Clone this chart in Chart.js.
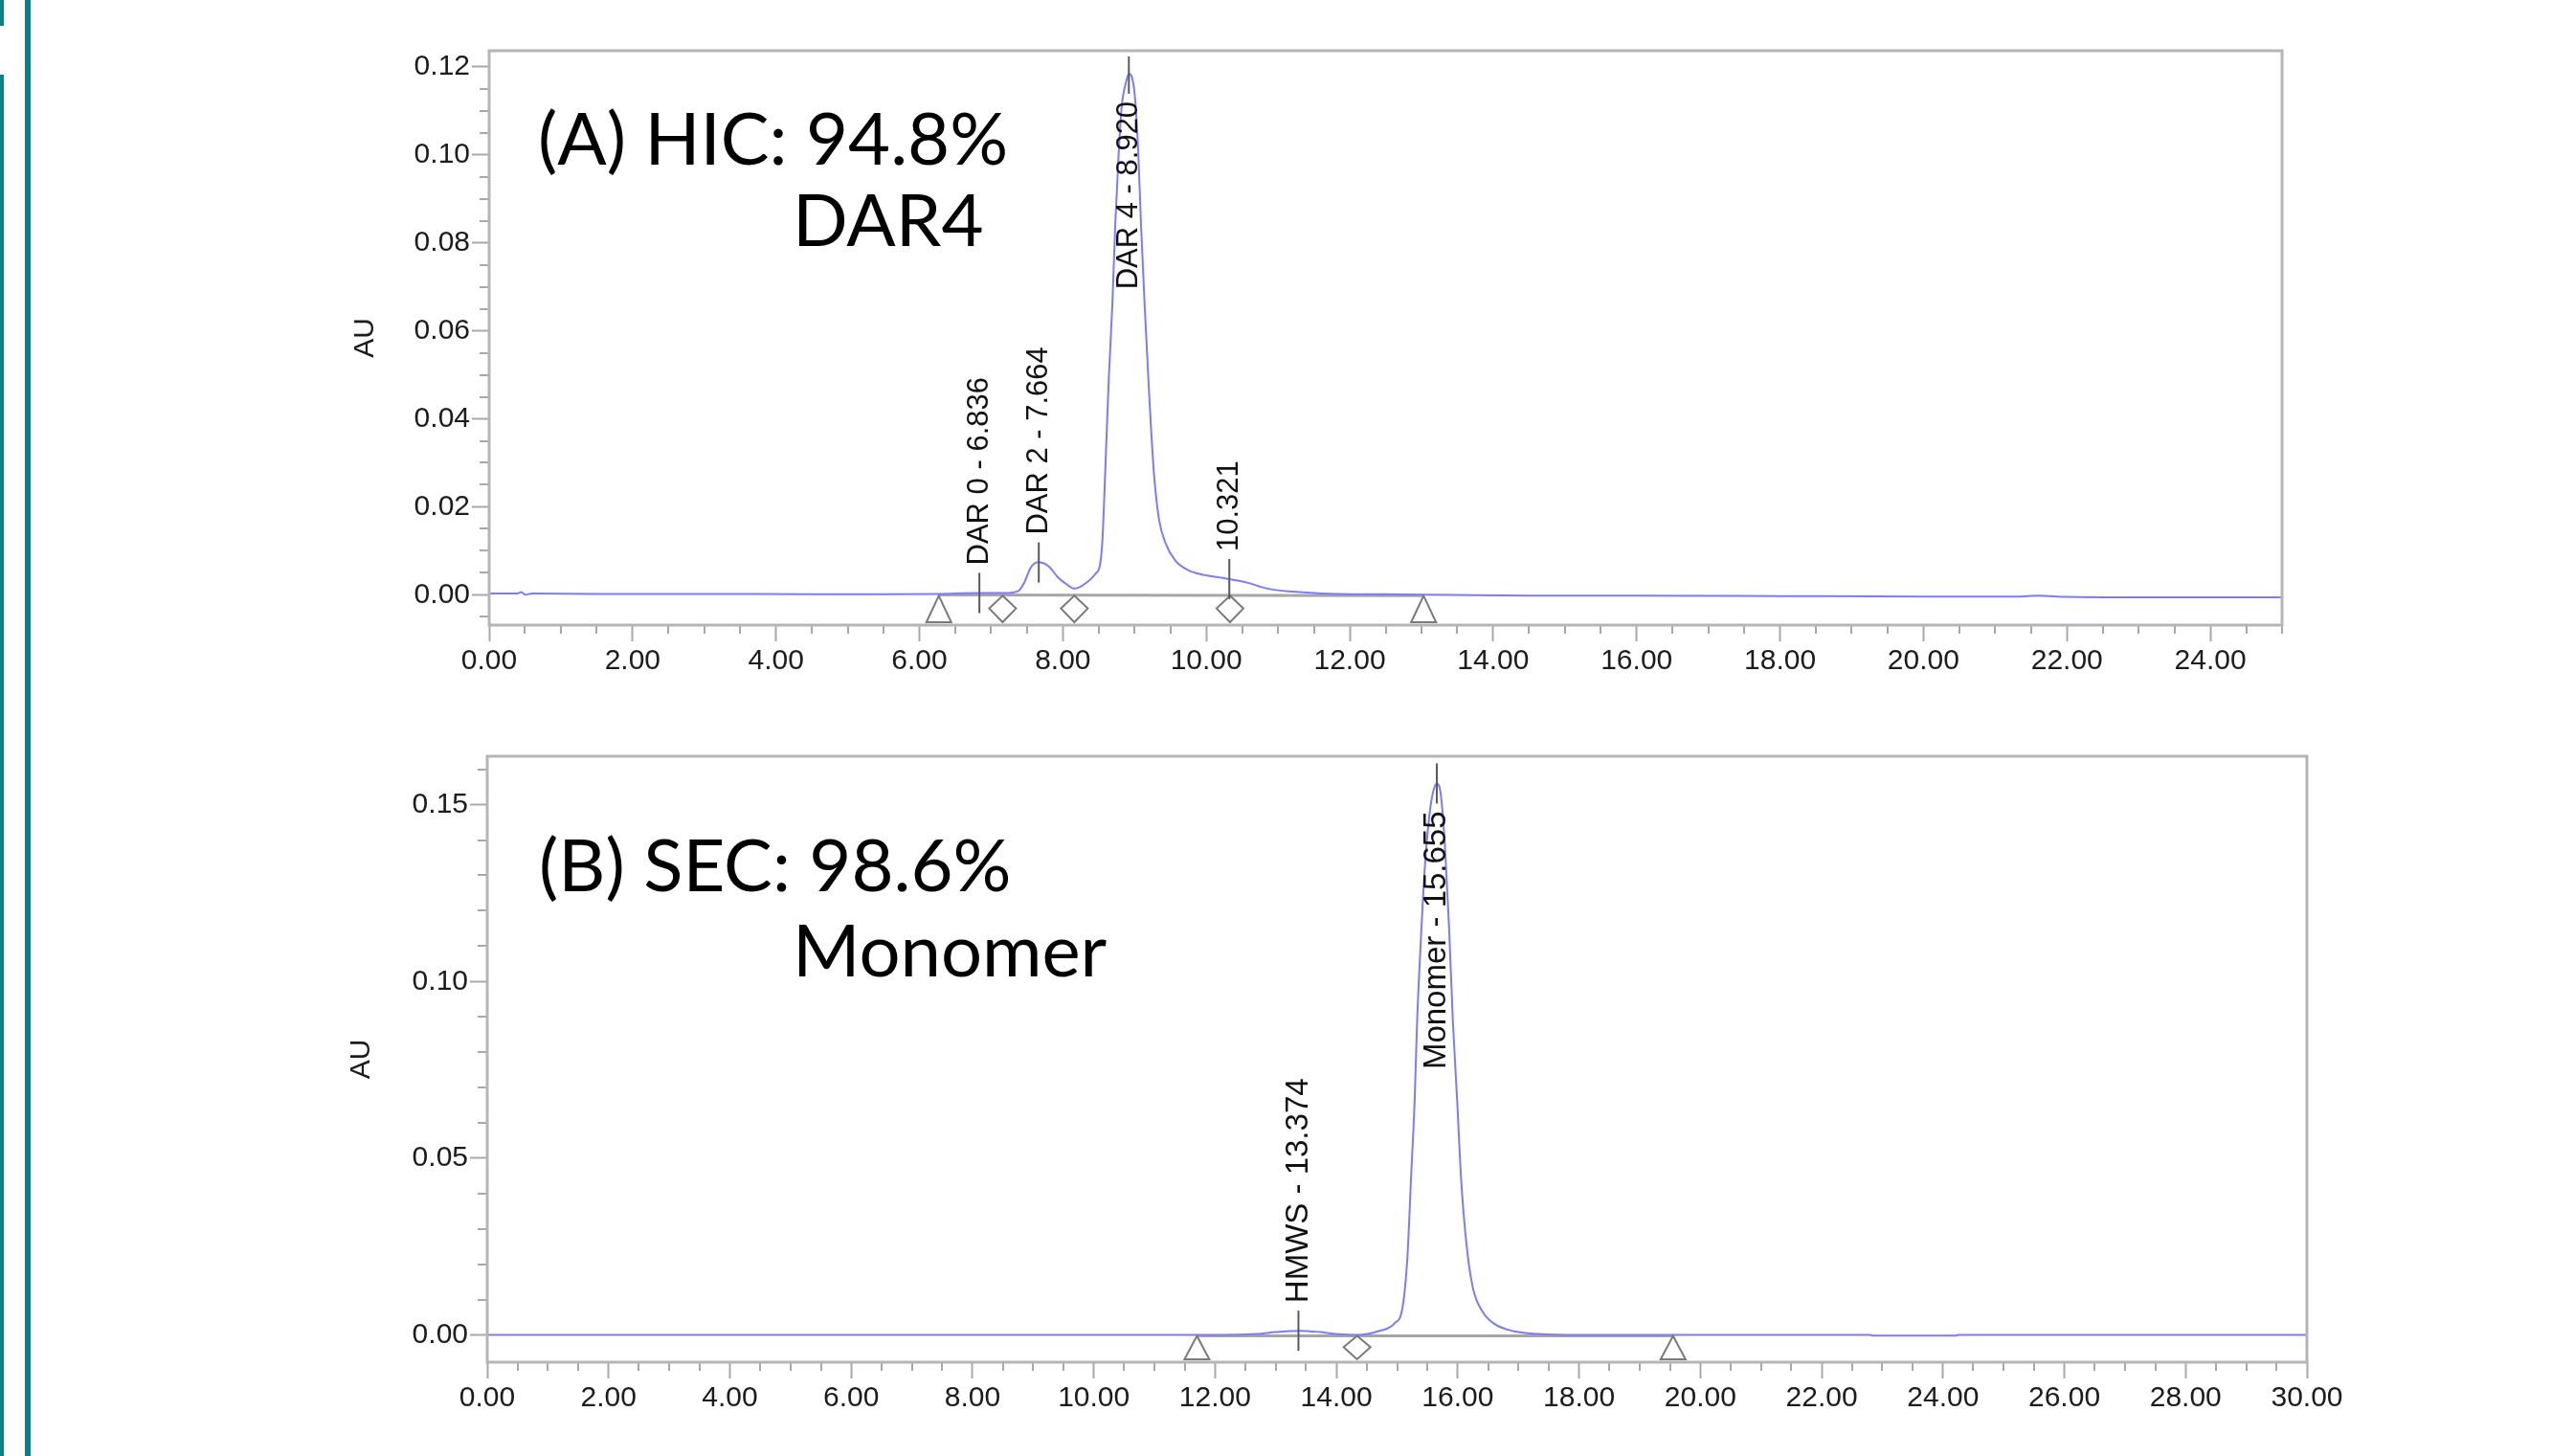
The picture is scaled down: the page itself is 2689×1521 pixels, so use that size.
<!DOCTYPE html>
<html lang="en">
<head>
<meta charset="UTF-8">
<title>HIC / SEC chromatograms</title>
<script src="https://cdn.jsdelivr.net/npm/chart.js"></script>
<style>
  html, body { margin: 0; padding: 0; background: #fff; }
  body { width: 2689px; height: 1521px; position: relative; overflow: hidden; }
  .panel { position: absolute; left: 0; width: 2689px; }
  #panelA { top: 0; height: 760px; }
  #panelB { top: 760px; height: 761px; }
  .bar { position: absolute; background: #0e8280; }
</style>
</head>
<body>
<div class="bar" style="left:0;top:0;width:4px;height:27px"></div>
<div class="bar" style="left:0;top:78px;width:4px;height:1443px"></div>
<div class="bar" style="left:26px;top:0;width:6px;height:1521px"></div>

<div class="panel" id="panelA"><canvas id="hicChart"></canvas></div>
<div class="panel" id="panelB"><canvas id="secChart"></canvas></div>

<script>
// (A) HIC trace - retention time (min) / absorbance (AU)
const hicTime = [0.00, 0.40, 0.45, 0.50, 0.60, 1.50, 3.00, 4.50, 5.50, 6.27, 6.80, 7.20,
  7.37, 7.46, 7.55, 7.654, 7.80, 7.93, 8.05, 8.16, 8.29, 8.45, 8.52, 8.55, 8.60, 8.64,
  8.69, 8.73, 8.78, 8.82, 8.88, 8.92, 9.00, 9.05, 9.09, 9.14, 9.205, 9.27, 9.34, 9.43,
  9.565, 9.745, 9.97, 10.20, 10.375, 10.58, 10.85, 11.21, 11.60, 12.50, 13.03, 14.50,
  16.00, 18.00, 20.00, 21.30, 21.60, 22.00, 23.00, 25.00];
const hicAU = [0.0003, 0.0003, 0.0006, 0.0000, 0.0003, 0.0002, 0.0002, 0.0001, 0.0001, 0.0002, 0.0004, 0.0004,
  0.0008, 0.0027, 0.0061, 0.0074, 0.0065, 0.0040, 0.0024, 0.0014, 0.0023, 0.0047, 0.0070, 0.0120, 0.0320, 0.0490,
  0.0660, 0.0840, 0.1010, 0.1110, 0.1165, 0.1185, 0.1140, 0.1010, 0.0840, 0.0660, 0.0450, 0.0276, 0.0172, 0.0118,
  0.0078, 0.0056, 0.0045, 0.0039, 0.0034, 0.0027, 0.0014, 0.0007, 0.0003, 0.0001, 0.0000, -0.0002,
  -0.0002, -0.0003, -0.0004, -0.0004, -0.0002, -0.0005, -0.0006, -0.0006];
const hicPeakTimes = [6.836, 7.664, 8.920, 10.321];
const hicPeakNames = ['DAR 0 - 6.836', 'DAR 2 - 7.664', 'DAR 4 - 8.920', '10.321'];
const hicBaseline = [6.27, 13.03];
const hicDrops = [7.16, 8.16, 10.33];

// (B) SEC trace
const secTime = [0.0, 5.0, 10.0, 11.7, 12.1, 12.7, 13.0, 13.38, 13.74, 14.04, 14.34, 14.70,
  14.96, 15.09, 15.17, 15.23, 15.29, 15.33, 15.39, 15.46, 15.54, 15.60, 15.655, 15.72,
  15.79, 15.855, 15.92, 15.99, 16.055, 16.145, 16.25, 16.41, 16.59, 16.91, 17.33, 18.0,
  19.5, 22.8, 22.85, 24.2, 24.25, 30.0];
const secAU = [0.0000, 0.0000, 0.0000, 0.0000, 0.0000, 0.0003, 0.0008, 0.0012, 0.0008, 0.0002, 0.0000, 0.0011,
  0.0033, 0.0078, 0.0220, 0.0443, 0.0665, 0.0886, 0.1110, 0.1330, 0.1480, 0.1540, 0.1560, 0.1530,
  0.1380, 0.1160, 0.0886, 0.0665, 0.0443, 0.0255, 0.0133, 0.0066, 0.0033, 0.0011, 0.0003, 0.0000,
  0.0000, 0.0000, -0.0002, -0.0002, 0.0000, 0.0000];
const secPeakTimes = [13.374, 15.655];
const secPeakNames = ['HMWS - 13.374', 'Monomer - 15.655'];
const secBaseline = [11.70, 19.55];
const secDrops = [14.34];

Chart.defaults.font.family = '"Liberation Sans", Arial, sans-serif';

function valueAt(times, vals, t) {
    for (let i = 1; i < times.length; i++) {
        if (t <= times[i]) {
            const f = (t - times[i - 1]) / (times[i] - times[i - 1]);
            return vals[i - 1] + f * (vals[i] - vals[i - 1]);
        }
    }
    return vals[vals.length - 1];
}

// baseline, integration marks, peak labels, frame, minor ticks and big caption
function makeDecor(cfg) {
    return {
        id: 'decor',
        beforeDatasetsDraw(chart) {
            const {ctx, scales: {x, y}} = chart;
            const [b0, b1] = cfg.baseline;
            ctx.save();
            ctx.strokeStyle = '#a6a6a6';
            ctx.lineWidth = 3;
            ctx.beginPath();
            ctx.moveTo(x.getPixelForValue(b0), y.getPixelForValue(valueAt(cfg.time, cfg.au, b0)) + 1);
            ctx.lineTo(x.getPixelForValue(b1), y.getPixelForValue(valueAt(cfg.time, cfg.au, b1)) + 1);
            ctx.stroke();
            ctx.restore();
        },
        afterDatasetsDraw(chart) {
            const {ctx, chartArea: a, scales: {x, y}} = chart;
            const y0 = y.getPixelForValue(0);
            const yb = a.bottom - 3;
            ctx.save();

            // triangles at baseline start / end
            ctx.strokeStyle = '#7a7a7a';
            ctx.fillStyle = '#fff';
            ctx.lineWidth = 2;
            cfg.baseline.forEach(t => {
                const px = x.getPixelForValue(t);
                ctx.beginPath();
                ctx.moveTo(px, y0 + 1);
                ctx.lineTo(px + 13, yb);
                ctx.lineTo(px - 13, yb);
                ctx.closePath();
                ctx.fill();
                ctx.stroke();
            });
            // diamonds at drop lines
            cfg.drops.forEach(t => {
                const px = x.getPixelForValue(t);
                const mid = (y0 + yb) / 2;
                ctx.beginPath();
                ctx.moveTo(px, y0 + 1);
                ctx.lineTo(px + 14, mid);
                ctx.lineTo(px, yb);
                ctx.lineTo(px - 14, mid);
                ctx.closePath();
                ctx.fill();
                ctx.stroke();
            });

            // peak apex marks and rotated labels
            ctx.font = cfg.labelSize + 'px "Liberation Sans", Arial, sans-serif';
            ctx.textBaseline = 'middle';
            cfg.peaks.forEach((t, i) => {
                const px = x.getPixelForValue(t);
                const py = y.getPixelForValue(valueAt(cfg.time, cfg.au, t));
                ctx.strokeStyle = '#5a5a5a';
                ctx.lineWidth = 2;
                ctx.beginPath();
                ctx.moveTo(px, Math.max(py - 21, a.top + 6));
                ctx.lineTo(px, py + 21);
                ctx.stroke();
                const w = ctx.measureText(cfg.names[i]).width;
                const above = py - 29 - w > a.top + 4;
                ctx.save();
                ctx.fillStyle = '#111';
                ctx.translate(px, above ? py - 29 : py + 29);
                ctx.rotate(-Math.PI / 2);
                ctx.textAlign = above ? 'left' : 'right';
                ctx.fillText(cfg.names[i], 0, 0);
                ctx.restore();
            });

            // minor ticks
            ctx.strokeStyle = '#a8a8a8';
            ctx.lineWidth = 2;
            ctx.beginPath();
            for (let v = 0; v <= x.max + 1e-9; v += 0.5) {
                if (Math.abs(v / 2 - Math.round(v / 2)) < 1e-6) continue;
                const px = Math.round(x.getPixelForValue(v));
                ctx.moveTo(px, a.bottom);
                ctx.lineTo(px, a.bottom + 9);
            }
            const k0 = Math.ceil(y.min / cfg.yMinor - 1e-6);
            const k1 = Math.floor(y.max / cfg.yMinor + 1e-6);
            for (let k = k0; k <= k1; k++) {
                const v = k * cfg.yMinor;
                if (Math.abs(v / cfg.yStep - Math.round(v / cfg.yStep)) < 1e-6) continue;
                const py = Math.round(y.getPixelForValue(v));
                ctx.moveTo(a.left, py);
                ctx.lineTo(a.left - 10, py);
            }
            ctx.stroke();

            // plot frame
            ctx.strokeStyle = '#b5b5b5';
            ctx.lineWidth = 3;
            ctx.strokeRect(a.left, a.top, a.width, a.height);

            // caption
            ctx.fillStyle = '#000';
            ctx.font = '76px Lato, "Noto Sans", sans-serif';
            ctx.textAlign = 'left';
            ctx.textBaseline = 'alphabetic';
            cfg.notes.forEach(n => ctx.fillText(n[0], n[1], n[2]));
            ctx.restore();
        }
    };
}

function chromatogram(canvasId, cfg) {
    const tickFont = {size: 30};
    return new Chart(document.getElementById(canvasId), {
        type: 'line',
        data: {
            datasets: [{
                data: cfg.time.map((t, i) => ({x: t, y: cfg.au[i]})),
                borderColor: '#7b7bff',
                borderWidth: 2,
                pointRadius: 0,
                cubicInterpolationMode: 'monotone',
                fill: false
            }]
        },
        options: {
            responsive: true,
            maintainAspectRatio: false,
            animation: false,
            layout: {padding: cfg.padding},
            plugins: {legend: {display: false}, tooltip: {enabled: false}},
            scales: {
                x: {
                    type: 'linear',
                    min: 0,
                    max: cfg.xMax,
                    afterFit: s => { s.height = 80; },
                    border: {display: false},
                    grid: {drawOnChartArea: false, drawTicks: true, tickLength: 17, tickColor: '#a8a8a8', tickWidth: 2},
                    ticks: {stepSize: 2, includeBounds: false, autoSkip: false, maxRotation: 0, padding: 3,
                        color: '#1c1c1c', font: tickFont, callback: v => v.toFixed(2)}
                },
                y: {
                    min: cfg.yMin,
                    max: cfg.yMax,
                    afterFit: s => { s.width = cfg.yWidth; },
                    border: {display: false},
                    grid: {drawOnChartArea: false, drawTicks: true, tickLength: 18, tickColor: '#a8a8a8', tickWidth: 2},
                    ticks: {stepSize: cfg.yStep, includeBounds: false, padding: 2,
                        color: '#1c1c1c', font: tickFont, callback: v => v.toFixed(2)},
                    title: {display: true, text: 'AU', color: '#1c1c1c', font: {size: 30}, padding: {top: 2, bottom: 0}}
                }
            }
        },
        plugins: [makeDecor(cfg)]
    });
}

chromatogram('hicChart', {
    time: hicTime, au: hicAU,
    peaks: hicPeakTimes, names: hicPeakNames, baseline: hicBaseline, drops: hicDrops,
    xMax: 25, yMin: -0.0069, yMax: 0.1237, yStep: 0.02, yMinor: 0.005,
    yWidth: 149, padding: {left: 362, right: 305, top: 53, bottom: 27},
    labelSize: 31,
    notes: [['(A) HIC: 94.8%', 562, 172], ['DAR4', 828, 257]]
});

chromatogram('secChart', {
    time: secTime, au: secAU,
    peaks: secPeakTimes, names: secPeakNames, baseline: secBaseline, drops: secDrops,
    xMax: 30, yMin: -0.0077, yMax: 0.1637, yStep: 0.05, yMinor: 0.01,
    yWidth: 151, padding: {left: 358, right: 279, top: 30, bottom: 18},
    labelSize: 33,
    notes: [['(B) SEC: 98.6%', 563, 171], ['Monomer', 828, 260]]
});
</script>
</body>
</html>
